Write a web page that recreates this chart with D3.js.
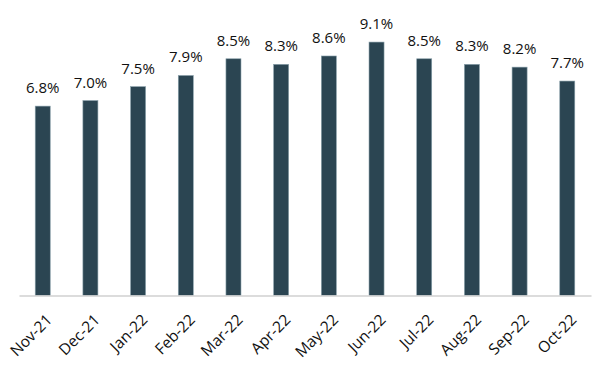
<!DOCTYPE html>
<html>
<head>
<meta charset="utf-8">
<script src="https://cdn.jsdelivr.net/npm/d3@7"></script>
<style>
  body { margin: 0; background: #fff; }
  svg { display: block; font-family: "Open Sans", "Noto Sans", sans-serif; }
</style>
</head>
<body>
<svg id="chart" width="600" height="365"></svg>
<script>
const categories = ["Nov-21","Dec-21","Jan-22","Feb-22","Mar-22","Apr-22","May-22","Jun-22","Jul-22","Aug-22","Sep-22","Oct-22"];
const values = [6.8, 7.0, 7.5, 7.9, 8.5, 8.3, 8.6, 9.1, 8.5, 8.3, 8.2, 7.7];
const valueLabels = ["6.8%","7.0%","7.5%","7.9%","8.5%","8.3%","8.6%","9.1%","8.5%","8.3%","8.2%","7.7%"];

const svg = d3.select("#chart");
const left = 19, right = 591, baseY = 295.5, topY = 17;

const x = d3.scaleBand().domain(categories).range([left, right]).paddingInner(0.685).paddingOuter(0.34);
const y = d3.scaleLinear().domain([0, 10]).range([baseY, topY]);

svg.append("g").selectAll("rect").data(values).join("rect")
  .attr("x", (d, i) => x(categories[i]))
  .attr("y", d => y(d))
  .attr("width", x.bandwidth())
  .attr("height", d => y(0) - y(d))
  .attr("fill", "#2b4552")
  .attr("stroke", "#8aa1ab")
  .attr("stroke-width", 0.6);

svg.append("g").selectAll("text").data(values).join("text")
  .attr("x", (d, i) => x(categories[i]) + x.bandwidth() / 2)
  .attr("y", d => y(d) - 13)
  .attr("text-anchor", "middle")
  .attr("font-size", 15)
  .attr("fill", "#111")
  .text((d, i) => valueLabels[i]);

const xAxis = d3.axisBottom(x).tickSize(0).tickPadding(0);
const gx = svg.append("g").attr("transform", `translate(0,${baseY})`).call(xAxis);
gx.select(".domain").attr("stroke", "#d0d0d0").attr("stroke-width", 1.5);
gx.selectAll("text")
  .attr("font-family", "\"Open Sans\", \"Noto Sans\", sans-serif")
  .attr("font-size", 15.5)
  .attr("fill", "#111")
  .attr("text-anchor", "end")
  .attr("dy", "0.35em")
  .attr("y", 0)
  .attr("transform", "translate(6.5,21.5) rotate(-45)");
</script>
</body>
</html>
